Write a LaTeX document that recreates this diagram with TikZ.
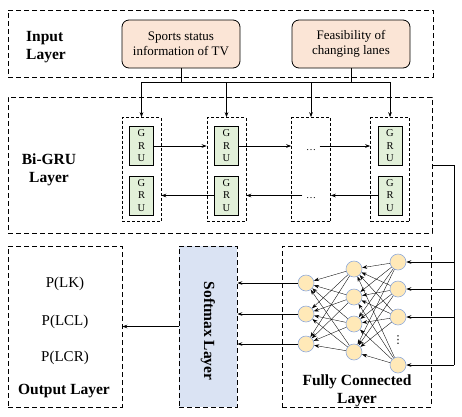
\documentclass[tikz,border=0pt]{standalone}
\usepackage{fontspec}
\setmainfont{Liberation Serif}
\newfontfamily\symfont{DejaVu Sans}
\usetikzlibrary{positioning,arrows.meta,calc}
\definecolor{inputfill}{HTML}{FBE5D6}
\definecolor{grufill}{HTML}{E2F0D9}
\definecolor{softfill}{HTML}{DAE3F3}
\definecolor{neuronfill}{HTML}{FFE9B8}
\definecolor{neuronedge}{HTML}{8FAADC}

\begin{document}
\begin{tikzpicture}[
  x=1pt, y=-1pt,
  >={Stealth[length=5pt, width=3.6pt]},
  layer/.style={draw, dash pattern=on 5pt off 3pt, line width=0.7pt, inner sep=0pt},
  inputbox/.style={draw, rounded corners=7pt, fill=inputfill, line width=0.8pt, align=center, minimum width=118pt, minimum height=48pt, font=\fontsize{13}{15}\selectfont},
  grucell/.style={draw, dash pattern=on 3pt off 2pt, line width=0.6pt, minimum width=39pt, minimum height=104pt, inner sep=0pt},
  gru/.style={draw, fill=grufill, line width=0.7pt, align=center, minimum width=24pt, minimum height=39pt, inner sep=0pt, font=\fontsize{10.5}{12.5}\selectfont},
  neuron/.style={circle, draw=neuronedge, fill=neuronfill, line width=0.6pt, minimum size=16pt, inner sep=0pt},
  title/.style={font=\bfseries\fontsize{15.5}{18.5}\selectfont, align=center},
  prob/.style={font=\fontsize{15}{17}\selectfont},
  flow/.style={->, line width=0.7pt},
  link/.style={->, line width=0.35pt}
]
  \useasboundingbox (0,0) rectangle (462,416);

  % input layer
  \node[layer, minimum width=425pt, minimum height=67pt] (inlayer) at (220.5,43.5) {};
  \node[title, align=left] (intitle) at (46,47) {Input\\Layer};
  \node[inputbox] (sports) at (181,44) {Sports status\\information of TV};
  \node[inputbox] (feas) at (351,44) {Feasibility of\\changing lanes};

  % bi-gru layer
  \node[layer, minimum width=424pt, minimum height=136pt] (bigru) at (220,165) {};
  \node[title] (grutitle) at (49,170) {Bi-GRU\\Layer};
  \node[grucell] (c1) at (141.5,169.5) {};
  \node[grucell] (c2) at (226.5,169.5) {};
  \node[grucell] (c3) at (311,169.5) {};
  \node[grucell] (c4) at (390,169.5) {};
  \foreach \c in {1,2,4} {
    \node[gru] (g\c t) at ($(c\c)+(0,-23.5)$) {G\\R\\U};
    \node[gru] (g\c b) at ($(c\c)+(0,26)$) {G\\R\\U};
  }
  \node (d1) at (311,150) {\dots};
  \node (d2) at (311,198) {\dots};

  % input to gru cells
  \coordinate (bus) at (0,82);
  \draw[line width=0.7pt] (sports.south) -- (sports.south |- bus);
  \draw[line width=0.7pt] (feas.south) -- (feas.south |- bus);
  \draw[line width=0.7pt] (c1.north |- bus) -- (c4.north |- bus);
  \foreach \c in {c1,c2,c3,c4}
    \draw[flow] (\c.north |- bus) -- (\c.north);

  % forward and backward pass
  \draw[flow] (g1t.east) -- (c2.west |- g1t.east);
  \draw[flow] (g2t.east) -- (c3.west |- g2t.east);
  \draw[flow] (d1.east |- g2t.east) -- (c4.west |- g2t.east);
  \draw[flow] (g4b.west) -- (c3.east |- g4b.west);
  \draw[flow] (d2.west |- g4b.west) -- (c2.east |- g4b.west);
  \draw[flow] (g2b.west) -- (c1.east |- g2b.west);

  % output, softmax and fully connected layers
  \node[layer, minimum width=114pt, minimum height=161pt] (out) at (65,326.5) {};
  \node[layer, fill=softfill, minimum width=58pt, minimum height=161pt] (soft) at (208,326.5) {};
  \node[title, rotate=-90] (softtitle) at (208,331) {Softmax Layer};
  \node[layer, minimum width=149pt, minimum height=161pt] (fc) at (356.5,326.5) {};
  \node[title] (fctitle) at (357,391) {Fully Connected\\Layer};
  \node[prob] (plk) at (65,284) {P(LK)};
  \node[prob] (plcl) at (65,322) {P(LCL)};
  \node[prob] (plcr) at (65,358) {P(LCR)};
  \node[title] (outtitle) at (64,391) {Output Layer};

  \foreach \y [count=\i] in {262,289,317,365}
    \node[neuron] (r\i) at (398,\y) {};
  \node[inner sep=0pt, font=\symfont\fontsize{11}{11}\selectfont] (rdots) at (398,340) {⋮};
  \foreach \y [count=\i] in {269,297,324,352}
    \node[neuron] (m\i) at (354,\y) {};
  \foreach \y [count=\i] in {283,314,344}
    \node[neuron] (l\i) at (306,\y) {};

  \foreach \i in {1,...,4}
    \foreach \j in {1,...,4}
      \draw[link] (r\i) -- (m\j);
  \foreach \i in {1,...,4}
    \foreach \j in {1,...,3}
      \draw[link] (m\i) -- (l\j);

  % bi-gru to fully connected
  \coordinate (feed) at (454,365);
  \draw[line width=0.7pt] (bigru.east) -| (feed);
  \foreach \i in {1,...,4}
    \draw[flow] (feed |- r\i) -- (r\i.east);

  \foreach \i in {1,2,3}
    \draw[flow] (l\i.west) -- (soft.east |- l\i.west);
  \draw[flow] (soft.west) -- (out.east);
\end{tikzpicture}
\end{document}
